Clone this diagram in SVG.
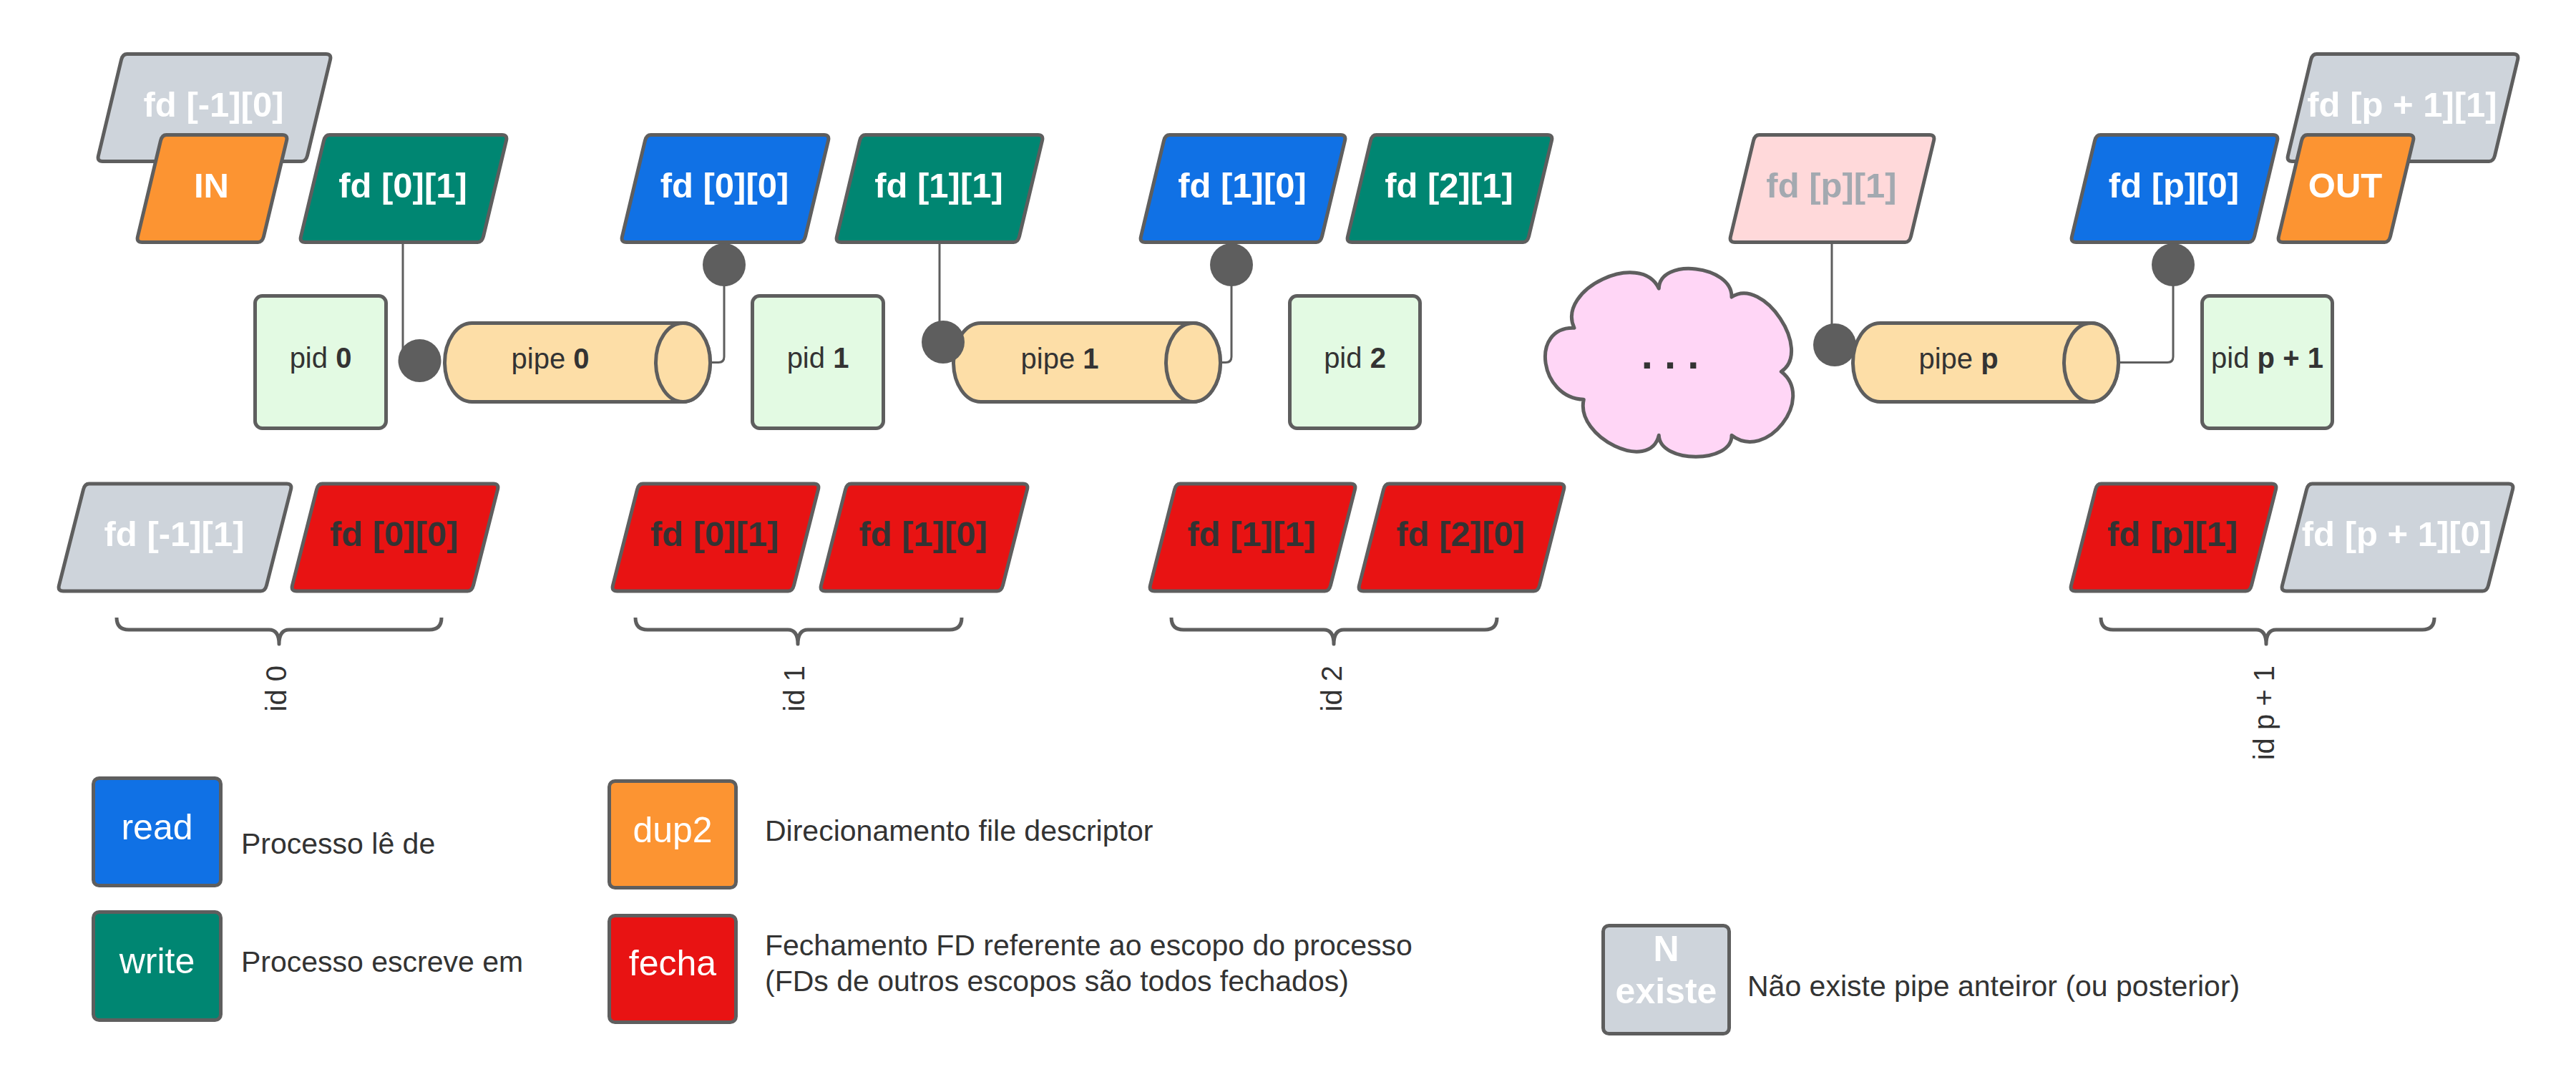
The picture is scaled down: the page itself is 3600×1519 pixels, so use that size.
<svg xmlns="http://www.w3.org/2000/svg" width="3600" height="1519" viewBox="0 0 3600 1519">
<style>
text{font-family:"Liberation Sans",Arial,sans-serif}
.sh{stroke:#5E5E5E;stroke-width:5;stroke-linejoin:round}
.blue{fill:#1071E5}.teal{fill:#008672}.orange{fill:#FC9432}.red{fill:#E81313}.gray{fill:#CED4DB}.pink{fill:#FFD9DA}
.pid{fill:#E3FAE3}.pipe{fill:#FDDEA7}.cloud{fill:#FFD6F6}
.fd{font-size:49px;font-weight:bold;text-anchor:middle;fill:#fff}
.dk{fill:#333}.mut{fill:#A3A9B0}
.t40{font-size:40px;fill:#333;text-anchor:middle}
.leg{font-size:41px;fill:#333}
.lb{font-size:50px;text-anchor:middle;fill:#fff}
.con{fill:none;stroke:#5E5E5E;stroke-width:3}
.dot{fill:#5E5E5E}
.brace{fill:none;stroke:#5E5E5E;stroke-width:5;stroke-linejoin:round}
</style>
<rect width="3600" height="1519" fill="#fff"/>

<!-- upper gray nodes and top row -->
<g id="fd_m1_0"><path class="sh gray" d="M177.5,75.5 h278 q8,0 6,8 l-32,134 q-2,8 -8,8 h-278 q-8,0 -6,-8 l32,-134 q2,-8 8,-8 z"/><text class="fd" x="298.5" y="162.5">fd [-1][0]</text></g>
<g id="in"><path class="sh orange" d="M232.5,188.5 h162 q8,0 6,8 l-32,134 q-2,8 -8,8 h-162 q-8,0 -6,-8 l32,-134 q2,-8 8,-8 z"/><text class="fd" x="295.5" y="275.5">IN</text></g>
<g id="fd_0_1_top"><path class="sh teal" d="M460.5,188.5 h241 q8,0 6,8 l-32,134 q-2,8 -8,8 h-241 q-8,0 -6,-8 l32,-134 q2,-8 8,-8 z"/><text class="fd" x="563" y="275.5">fd [0][1]</text></g>
<g id="fd_0_0_top"><path class="sh blue" d="M909.5,188.5 h242 q8,0 6,8 l-32,134 q-2,8 -8,8 h-242 q-8,0 -6,-8 l32,-134 q2,-8 8,-8 z"/><text class="fd" x="1012.5" y="275.5">fd [0][0]</text></g>
<g id="fd_1_1_top"><path class="sh teal" d="M1209.5,188.5 h241 q8,0 6,8 l-32,134 q-2,8 -8,8 h-241 q-8,0 -6,-8 l32,-134 q2,-8 8,-8 z"/><text class="fd" x="1312" y="275.5">fd [1][1]</text></g>
<g id="fd_1_0_top"><path class="sh blue" d="M1634.5,188.5 h239 q8,0 6,8 l-32,134 q-2,8 -8,8 h-239 q-8,0 -6,-8 l32,-134 q2,-8 8,-8 z"/><text class="fd" x="1736" y="275.5">fd [1][0]</text></g>
<g id="fd_2_1_top"><path class="sh teal" d="M1923.5,188.5 h239 q8,0 6,8 l-32,134 q-2,8 -8,8 h-239 q-8,0 -6,-8 l32,-134 q2,-8 8,-8 z"/><text class="fd" x="2025" y="275.5">fd [2][1]</text></g>
<g id="fd_p_1_top"><path class="sh pink" d="M2458.5,188.5 h238 q8,0 6,8 l-32,134 q-2,8 -8,8 h-238 q-8,0 -6,-8 l32,-134 q2,-8 8,-8 z"/><text class="fd mut" x="2559.5" y="275.5">fd [p][1]</text></g>
<g id="fd_p_0_top"><path class="sh blue" d="M2935.5,188.5 h241 q8,0 6,8 l-32,134 q-2,8 -8,8 h-241 q-8,0 -6,-8 l32,-134 q2,-8 8,-8 z"/><text class="fd" x="3038" y="275.5">fd [p][0]</text></g>
<g id="fd_p1_1"><path class="sh gray" d="M3237.5,75.5 h275 q8,0 6,8 l-32,134 q-2,8 -8,8 h-275 q-8,0 -6,-8 l32,-134 q2,-8 8,-8 z"/><text class="fd" x="3357" y="162.5">fd [p + 1][1]</text></g>
<g id="out"><path class="sh orange" d="M3224.5,188.5 h142 q8,0 6,8 l-32,134 q-2,8 -8,8 h-142 q-8,0 -6,-8 l32,-134 q2,-8 8,-8 z"/><text class="fd" x="3277.5" y="275.5">OUT</text></g>

<!-- processes -->
<g id="pid0"><rect class="sh pid" x="356.5" y="413.5" width="183" height="185" rx="10"/><text class="t40" x="448" y="514">pid <tspan font-weight="bold">0</tspan></text></g>
<g id="pid1"><rect class="sh pid" x="1051.5" y="413.5" width="183" height="185" rx="10"/><text class="t40" x="1143" y="514">pid <tspan font-weight="bold">1</tspan></text></g>
<g id="pid2"><rect class="sh pid" x="1802.5" y="413.5" width="182" height="185" rx="10"/><text class="t40" x="1893.5" y="514">pid <tspan font-weight="bold">2</tspan></text></g>
<g id="pidp1"><rect class="sh pid" x="3077.5" y="413.5" width="182" height="185" rx="10"/><text class="t40" x="3168.5" y="514">pid <tspan font-weight="bold">p + 1</tspan></text></g>

<!-- pipes -->
<g id="pipe0"><path class="sh pipe" d="M659.5,451.5 H954.5 A38,55 0 0 1 954.5,561.5 H659.5 A38,55 0 0 1 659.5,451.5 Z"/><ellipse class="sh pipe" cx="954.5" cy="506.5" rx="38" ry="55"/><text class="t40" x="769" y="515">pipe <tspan font-weight="bold">0</tspan></text></g>
<g id="pipe1"><path class="sh pipe" d="M1370.5,451.5 H1667.5 A38,55 0 0 1 1667.5,561.5 H1370.5 A38,55 0 0 1 1370.5,451.5 Z"/><ellipse class="sh pipe" cx="1667.5" cy="506.5" rx="38" ry="55"/><text class="t40" x="1481" y="515">pipe <tspan font-weight="bold">1</tspan></text></g>
<g id="pipep"><path class="sh pipe" d="M2627.5,451.5 H2922.5 A38,55 0 0 1 2922.5,561.5 H2627.5 A38,55 0 0 1 2627.5,451.5 Z"/><ellipse class="sh pipe" cx="2922.5" cy="506.5" rx="38" ry="55"/><text class="t40" x="2737" y="515">pipe <tspan font-weight="bold">p</tspan></text></g>

<!-- cloud -->
<g id="cloud"><path class="sh cloud" d="M2200,458.3 C2137.8,456.2 2151.1,556.2 2213.3,558.3 C2201.1,611.6 2306.1,661.6 2318.3,608.3 C2319.4,648.3 2421.1,648.3 2420,608.3 C2468.4,645.9 2537.7,556.9 2489.3,519.3 C2533.7,489.8 2464.4,385.5 2420,415 C2421.1,370.7 2319.4,359 2318.3,403.3 C2293,348.9 2174.7,403.9 2200,458.3 Z"/><text x="2334" y="515" font-size="58" font-weight="bold" fill="#333" text-anchor="middle">. . .</text></g>

<!-- connectors -->
<g id="connectors">
<path class="con" d="M563,341 V495"/>
<path class="con" d="M992.5,506.5 H1004 Q1012,506.5 1012,498.5 V370"/>
<path class="con" d="M1313,341 V470"/>
<path class="con" d="M1705.5,506.5 H1713 Q1721,506.5 1721,498.5 V370"/>
<path class="con" d="M2560,341 V475"/>
<path class="con" d="M2960.5,506.5 H3029 Q3037,506.5 3037,498.5 V370"/>
<circle class="dot" cx="586.5" cy="504" r="30"/>
<circle class="dot" cx="1012" cy="370" r="30"/>
<circle class="dot" cx="1318" cy="478" r="30"/>
<circle class="dot" cx="1721" cy="370" r="30"/>
<circle class="dot" cx="2564" cy="482" r="30"/>
<circle class="dot" cx="3037" cy="370" r="30"/>
</g>

<!-- bottom row -->
<g id="fd_m1_1"><path class="sh gray" d="M124.5,676 h276 q8,0 6,8 l-34,134 q-2,8 -8,8 h-276 q-8,0 -6,-8 l34,-134 q2,-8 8,-8 z"/><text class="fd" x="243.5" y="763">fd [-1][1]</text></g>
<g id="fd_0_0_bot"><path class="sh red" d="M450.5,676 h239 q8,0 6,8 l-34,134 q-2,8 -8,8 h-239 q-8,0 -6,-8 l34,-134 q2,-8 8,-8 z"/><text class="fd dk" x="551" y="763">fd [0][0]</text></g>
<g id="fd_0_1_bot"><path class="sh red" d="M898.5,676 h239 q8,0 6,8 l-34,134 q-2,8 -8,8 h-239 q-8,0 -6,-8 l34,-134 q2,-8 8,-8 z"/><text class="fd dk" x="999" y="763">fd [0][1]</text></g>
<g id="fd_1_0_bot"><path class="sh red" d="M1189.5,676 h240 q8,0 6,8 l-34,134 q-2,8 -8,8 h-240 q-8,0 -6,-8 l34,-134 q2,-8 8,-8 z"/><text class="fd dk" x="1290.5" y="763">fd [1][0]</text></g>
<g id="fd_1_1_bot"><path class="sh red" d="M1649.5,676 h238 q8,0 6,8 l-34,134 q-2,8 -8,8 h-238 q-8,0 -6,-8 l34,-134 q2,-8 8,-8 z"/><text class="fd dk" x="1749.5" y="763">fd [1][1]</text></g>
<g id="fd_2_0_bot"><path class="sh red" d="M1941.5,676 h238 q8,0 6,8 l-34,134 q-2,8 -8,8 h-238 q-8,0 -6,-8 l34,-134 q2,-8 8,-8 z"/><text class="fd dk" x="2041.5" y="763">fd [2][0]</text></g>
<g id="fd_p_1_bot"><path class="sh red" d="M2936.5,676 h238 q8,0 6,8 l-34,134 q-2,8 -8,8 h-238 q-8,0 -6,-8 l34,-134 q2,-8 8,-8 z"/><text class="fd dk" x="3036.5" y="763">fd [p][1]</text></g>
<g id="fd_p1_0"><path class="sh gray" d="M3231.5,676 h274 q8,0 6,8 l-34,134 q-2,8 -8,8 h-274 q-8,0 -6,-8 l34,-134 q2,-8 8,-8 z"/><text class="fd" x="3349.5" y="763">fd [p + 1][0]</text></g>

<!-- braces and labels -->
<g id="id0"><path class="brace" d="M163,863 Q163,880 180,880 H376 Q390,880 390,900 Q390,880 404,880 H600 Q617,880 617,863"/><text class="t40" style="text-anchor:end" transform="translate(400,930) rotate(-90)">id 0</text></g>
<g id="id1"><path class="brace" d="M888,863 Q888,880 905,880 H1101 Q1115,880 1115,900 Q1115,880 1129,880 H1327 Q1344,880 1344,863"/><text class="t40" style="text-anchor:end" transform="translate(1124,930) rotate(-90)">id 1</text></g>
<g id="id2"><path class="brace" d="M1637,863 Q1637,880 1654,880 H1850 Q1864,880 1864,900 Q1864,880 1878,880 H2075 Q2092,880 2092,863"/><text class="t40" style="text-anchor:end" transform="translate(1875,930) rotate(-90)">id 2</text></g>
<g id="idp1"><path class="brace" d="M2936,863 Q2936,880 2953,880 H3153 Q3167,880 3167,900 Q3167,880 3181,880 H3385 Q3402,880 3402,863"/><text class="t40" style="text-anchor:end" transform="translate(3178,930) rotate(-90)">id p + 1</text></g>

<!-- legend -->
<g id="leg_read"><rect class="sh blue" x="130.5" y="1087.5" width="178" height="150" rx="8"/><text class="lb" x="219.5" y="1173">read</text><text class="leg" x="337" y="1193">Processo lê de</text></g>
<g id="leg_write"><rect class="sh teal" x="130.5" y="1274.5" width="178" height="151" rx="8"/><text class="lb" x="219.5" y="1360">write</text><text class="leg" x="337" y="1358">Processo escreve em</text></g>
<g id="leg_dup2"><rect class="sh orange" x="851.5" y="1091.5" width="177" height="149" rx="8"/><text class="lb" x="940" y="1177">dup2</text><text class="leg" x="1069" y="1175">Direcionamento file descriptor</text></g>
<g id="leg_fecha"><rect class="sh red" x="851.5" y="1279.5" width="177" height="149" rx="8"/><text class="lb dk" x="940" y="1363">fecha</text><text class="leg" x="1069" y="1335">Fechamento FD referente ao escopo do processo</text><text class="leg" x="1069" y="1385">(FDs de outros escopos são todos fechados)</text></g>
<g id="leg_nexiste"><rect class="sh gray" x="2240.5" y="1293.5" width="176" height="151" rx="8"/><text class="lb" font-weight="bold" x="2328.5" y="1343">N</text><text class="lb" font-weight="bold" x="2328.5" y="1402">existe</text><text class="leg" x="2442" y="1392">Não existe pipe anteiror (ou posterior)</text></g>
</svg>
